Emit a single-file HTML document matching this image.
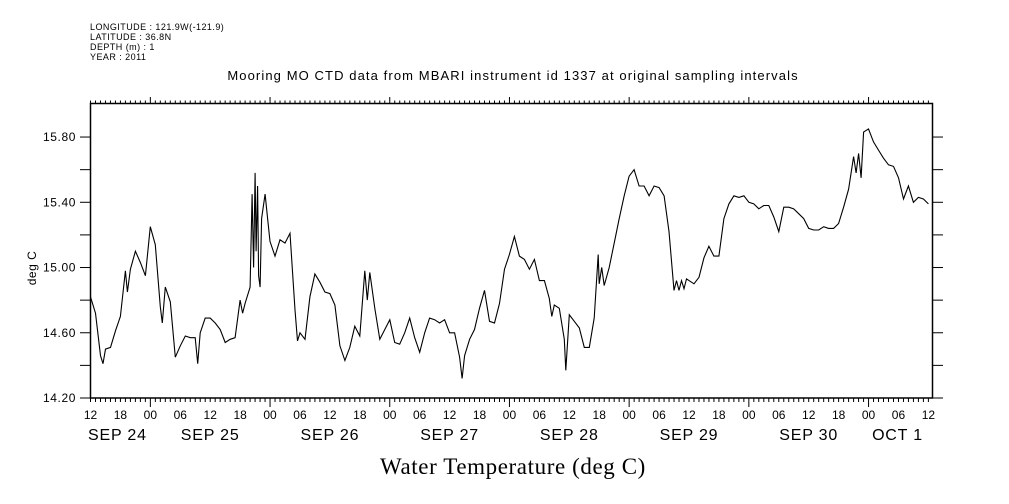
<!DOCTYPE html>
<html><head><meta charset="utf-8"><style>
body{margin:0;background:#fff;}
svg{display:block;font-family:"Liberation Sans",sans-serif;}
</style></head><body>
<svg id="chart" width="1009" height="504" viewBox="0 0 1009 504" xmlns="http://www.w3.org/2000/svg">
<g font-size="9" fill="#000" letter-spacing="0.45">
<text x="90" y="30">LONGITUDE : 121.9W(-121.9)</text>
<text x="90" y="40">LATITUDE : 36.8N</text>
<text x="90" y="50">DEPTH (m) : 1</text>
<text x="90" y="60">YEAR : 2011</text>
</g>
<text x="513" y="80" font-size="13" letter-spacing="1.1" text-anchor="middle">Mooring MO CTD data from MBARI instrument id 1337 at original sampling intervals</text>
<text x="513" y="474" font-size="23" letter-spacing="0.6" text-anchor="middle" font-family="'Liberation Serif',serif">Water Temperature (deg C)</text>
<text transform="translate(36,268) rotate(-90)" font-size="12" letter-spacing="0.5" text-anchor="middle">deg C</text>
<rect x="90.5" y="103.5" width="842" height="294.5" fill="none" stroke="#000" stroke-width="1.5"/>
<g id="axes"></g>
<g id="series"></g>
</svg>
<script>
const yTicks=[14.2,14.4,14.6,14.8,15.0,15.2,15.4,15.6,15.8];
const yTickLabels=["14.20","","14.60","","15.00","","15.40","","15.80"];
const hourLabels=["12","18","00","06"];
const dayLabels=["SEP 24","SEP 25","SEP 26","SEP 27","SEP 28","SEP 29","SEP 30","OCT  1"];
const times=[0,1,2,2.5,3,4,5,6,7,7.4,8,9,10,11,12,13,14,14.4,15,16,17,18,19,20,21,21.5,22,23,24,25,26,27,28,29,30,30.5,31,32,32.4,32.7,33,33.2,33.5,33.7,34,34.3,35,35.5,36,37,38,39,40,41,41.5,42,43,44,45,46,47,48,49,50,51,52,53,54,55,55.5,56,57,58,59,60,61,62,63,64,65,66,67,68,69,70,71,72,73,74,74.5,75,76,77,78,79,80,81,82,83,84,85,86,87,88,89,90,91,92,92.5,93,94,95,95.3,96,97,98,99,100,101,101.8,102,102.5,103,104,105,106,107,108,109,110,111,112,113,114,115,116,117,117.5,118,118.5,119,119.5,120,121,122,123,124,125,126,127,128,129,130,131,132,133,134,135,136,137,138,139,140,141,142,143,144,145,146,147,148,149,150,151,152,153,153.5,154,154.5,155,156,157,158,159,160,161,162,163,164,165,166,167,168];
const temps=[14.82,14.72,14.46,14.41,14.50,14.51,14.61,14.70,14.98,14.85,14.99,15.10,15.03,14.95,15.25,15.14,14.76,14.66,14.88,14.79,14.45,14.52,14.58,14.57,14.57,14.41,14.60,14.69,14.69,14.66,14.62,14.54,14.56,14.57,14.80,14.72,14.78,14.88,15.45,15.00,15.58,15.10,15.50,14.95,14.88,15.30,15.45,15.30,15.16,15.07,15.17,15.15,15.21,14.74,14.55,14.60,14.56,14.82,14.96,14.91,14.85,14.84,14.77,14.52,14.43,14.51,14.64,14.58,14.98,14.80,14.97,14.75,14.56,14.62,14.68,14.54,14.53,14.60,14.69,14.57,14.48,14.60,14.69,14.68,14.66,14.68,14.60,14.60,14.45,14.32,14.46,14.56,14.62,14.75,14.86,14.67,14.66,14.78,14.99,15.08,15.19,15.07,15.05,14.99,15.05,14.92,14.92,14.81,14.70,14.77,14.75,14.56,14.37,14.71,14.67,14.63,14.51,14.51,14.69,15.08,14.90,15.00,14.89,15.00,15.15,15.30,15.44,15.56,15.60,15.50,15.50,15.44,15.50,15.49,15.44,15.22,14.86,14.92,14.86,14.92,14.87,14.93,14.92,14.90,14.94,15.06,15.13,15.07,15.07,15.30,15.39,15.44,15.43,15.44,15.40,15.39,15.36,15.38,15.38,15.31,15.22,15.37,15.37,15.36,15.33,15.30,15.24,15.23,15.23,15.25,15.24,15.24,15.27,15.37,15.48,15.68,15.58,15.70,15.55,15.83,15.85,15.77,15.72,15.67,15.63,15.62,15.55,15.42,15.50,15.40,15.43,15.42,15.39];
const NS="http://www.w3.org/2000/svg";
const X0=90.5,PXH=4.9875,Y0=398,PXV=163.1;
function xs(h){return X0+h*PXH;}
function ys(v){return Y0-(v-14.2)*PXV;}
function mk(tag,attrs,parent){const e=document.createElementNS(NS,tag);for(const k in attrs)e.setAttribute(k,attrs[k]);parent.appendChild(e);return e;}
const ax=document.getElementById('axes');
yTicks.forEach((v,i)=>{
  const y=ys(v);
  const t1=mk('line',{x1:80,x2:90.5,y1:y,y2:y,stroke:'#000'},ax);
  
  
  const t2=mk('line',{x1:932.5,x2:943,y1:y,y2:y,stroke:'#000'},ax);
  
  
  if(yTickLabels[i]){
    const tx=mk('text',{x:76,y:y+4,'font-size':12,'letter-spacing':0.6,'text-anchor':'end'},ax);
    tx.textContent=yTickLabels[i];
    
    
  }
});
for(let h=0;h<=168;h++){
  const x=xs(h);const major=((h+12)%24===0);const six=(h%6===0);
  const tb=mk('line',{x1:x,x2:x,y1:398,y2:major?407:402,stroke:'#000'},ax);
  
  
  const tt=mk('line',{x1:x,x2:x,y1:103.5,y2:major?97:100.5,stroke:'#000'},ax);
  
  
  if(six){
    const lb=mk('text',{x:x,y:419,'font-size':12,'text-anchor':'middle'},ax);
    lb.textContent=hourLabels[(h/6)%4];
    
    
  }
}
dayLabels.forEach((d,i)=>{
  let x=xs(i*24);
  if(i===0)x=xs(5.4);
  if(i===dayLabels.length-1)x=xs(i*24-6.2);
  const t=mk('text',{x:x,y:440,'font-size':16,'letter-spacing':0.8,'text-anchor':'middle','xml:space':'preserve'},ax);
  t.textContent=d;
  
  
});
const sr=document.getElementById('series');
const pts=times.map((t,i)=>xs(t).toFixed(1)+','+ys(temps[i]).toFixed(1)).join(' ');
const pl=mk('polyline',{points:pts,fill:'none',stroke:'#000','stroke-width':1.1},sr);


</script>
</body></html>
